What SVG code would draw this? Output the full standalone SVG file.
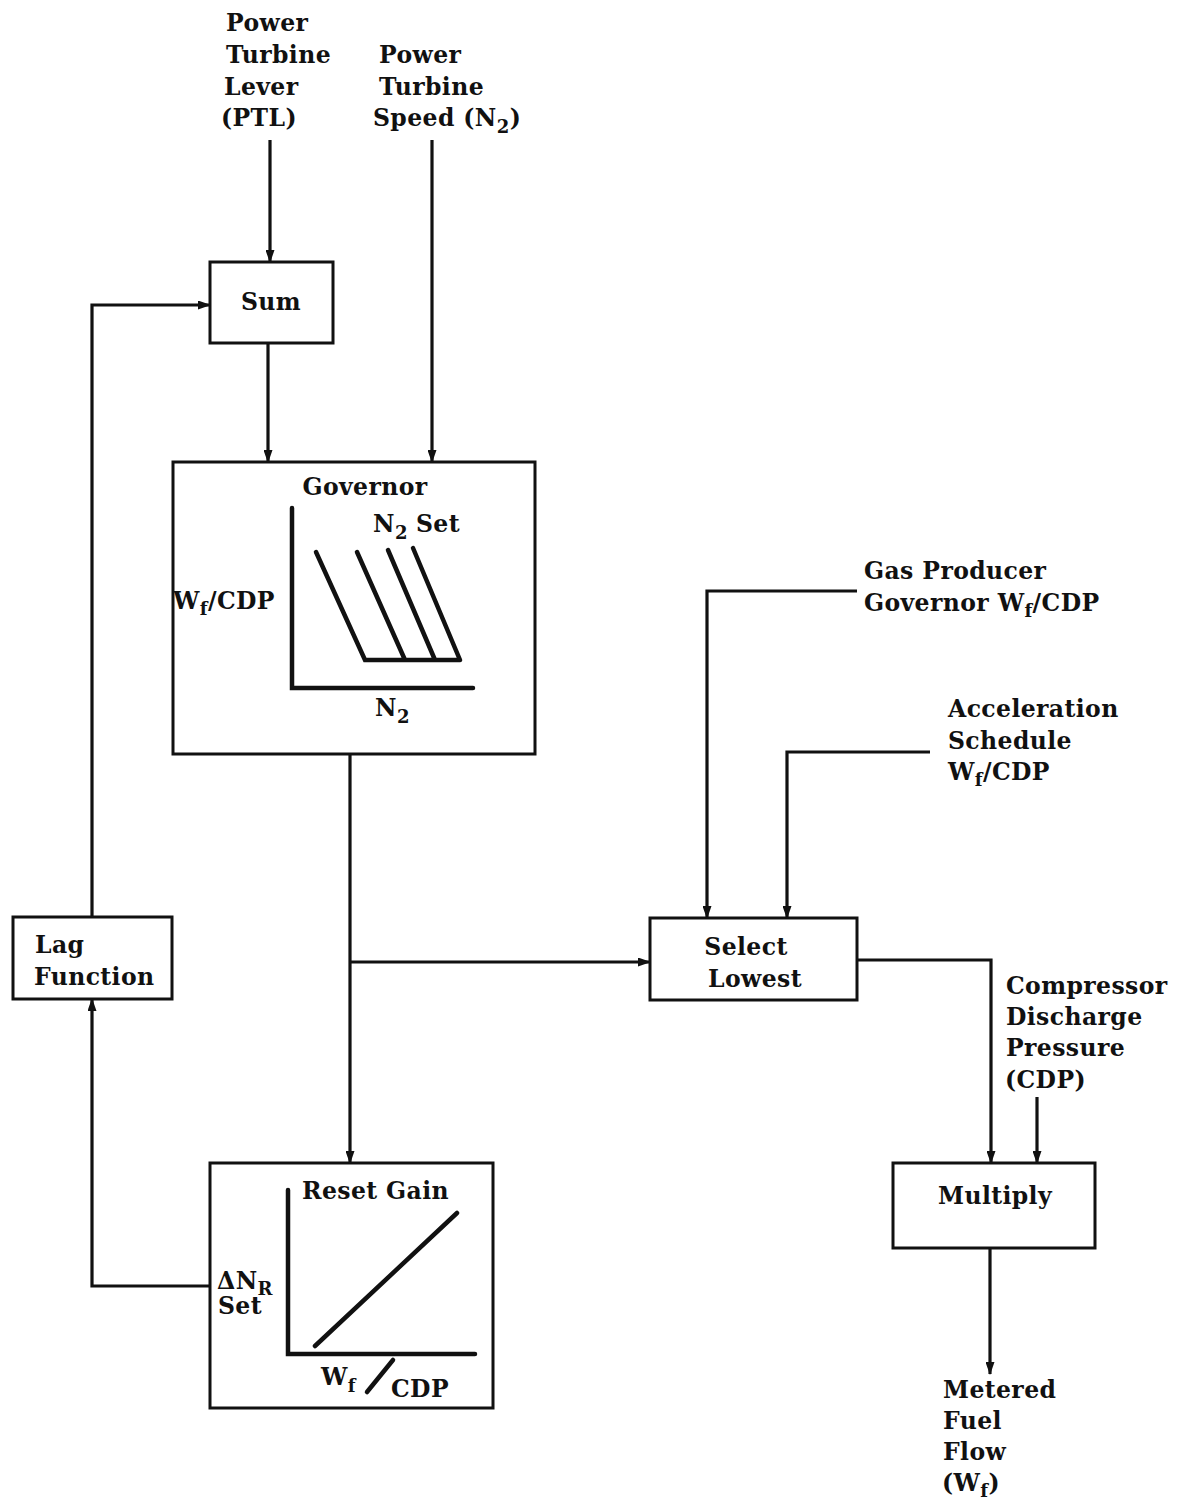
<svg xmlns="http://www.w3.org/2000/svg" width="1186" height="1503" viewBox="0 0 1186 1503">
<style>
text{font-family:"DejaVu Serif","Liberation Serif",serif;font-weight:bold;font-size:23.5px;letter-spacing:0.4px;fill:#111}
.sub{font-size:18px}
.box{fill:#fff;stroke:#111;stroke-width:3}
.ln{fill:none;stroke:#111;stroke-width:3.2;stroke-linejoin:miter}
.plot{fill:none;stroke:#111;stroke-width:4.5;stroke-linecap:round}
</style>
<defs>
<marker id="ah" markerUnits="userSpaceOnUse" markerWidth="13" markerHeight="9" refX="12" refY="4.5" orient="auto">
<path d="M0,0 L13,4.5 L0,9 z" fill="#111"/>
</marker>
</defs>
<rect width="1186" height="1503" fill="#fff"/>

<g id="labels">
<text x="226" y="31">Power</text>
<text x="226" y="63">Turbine</text>
<text x="224" y="95">Lever</text>
<text x="221" y="126">(PTL)</text>
<text x="379" y="63">Power</text>
<text x="379" y="95">Turbine</text>
<text x="373" y="126">Speed (N<tspan class="sub" dy="7">2</tspan><tspan dy="-7">)</tspan></text>
<text x="864" y="579">Gas Producer</text>
<text x="864" y="611">Governor W<tspan class="sub" dy="6">f</tspan><tspan dy="-6">/CDP</tspan></text>
<text x="948" y="717">Acceleration</text>
<text x="948" y="749">Schedule</text>
<text x="948" y="780">W<tspan class="sub" dy="6">f</tspan><tspan dy="-6">/CDP</tspan></text>
<text x="1006" y="994">Compressor</text>
<text x="1006" y="1025">Discharge</text>
<text x="1006" y="1056">Pressure</text>
<text x="1005" y="1088">(CDP)</text>
<text x="943" y="1398">Metered</text>
<text x="943" y="1429">Fuel</text>
<text x="943" y="1460">Flow</text>
<text x="942" y="1491">(W<tspan class="sub" dy="6">f</tspan><tspan dy="-6">)</tspan></text>
</g>

<g id="connectors">
<path class="ln" d="M270,140 V262" marker-end="url(#ah)"/>
<path class="ln" d="M432,140 V462" marker-end="url(#ah)"/>
<path class="ln" d="M268,343 V462" marker-end="url(#ah)"/>
<path class="ln" d="M350,754 V1163" marker-end="url(#ah)"/>
<path class="ln" d="M350,962 H650" marker-end="url(#ah)"/>
<path class="ln" d="M210,1286 H92 V999" marker-end="url(#ah)"/>
<path class="ln" d="M92,917 V305 H210" marker-end="url(#ah)"/>
<path class="ln" d="M857,591 H707 V918" marker-end="url(#ah)"/>
<path class="ln" d="M930,752 H787 V918" marker-end="url(#ah)"/>
<path class="ln" d="M857,960 H991 V1163" marker-end="url(#ah)"/>
<path class="ln" d="M1037,1097 V1163" marker-end="url(#ah)"/>
<path class="ln" d="M990,1248 V1374" marker-end="url(#ah)"/>
</g>

<g id="sum">
<rect class="box" x="210" y="262" width="123" height="81"/>
<text x="271" y="310" text-anchor="middle">Sum</text>
</g>

<g id="governor">
<rect class="box" x="173" y="462" width="362" height="292"/>
<text x="365" y="495" text-anchor="middle">Governor</text>
<path class="plot" d="M292,508 V688 H473"/>
<path class="plot" d="M316,552 L365,660 H460 M357,552 L405,660 M388,550 L435,660 M413,548 L460,660"/>
<text x="373" y="532">N<tspan class="sub" dy="7">2</tspan><tspan dy="-7" x="416">Set</tspan></text>
<text x="173" y="609">W<tspan class="sub" dy="6">f</tspan><tspan dy="-6">/CDP</tspan></text>
<text x="375" y="716">N<tspan class="sub" dy="7">2</tspan></text>
</g>

<g id="reset-gain">
<rect class="box" x="210" y="1163" width="283" height="245"/>
<text x="302" y="1199">Reset Gain</text>
<path class="plot" d="M288,1190 V1354 H475"/>
<path class="plot" d="M315,1346 L457,1213"/>
<path class="plot" d="M367,1392 L393,1360"/>
<text x="217" y="1289">ΔN<tspan class="sub" dy="6">R</tspan></text>
<text x="218" y="1314">Set</text>
<text x="321" y="1385">W<tspan class="sub" dy="7">f</tspan></text>
<text x="391" y="1397">CDP</text>
</g>

<g id="lag-function">
<rect class="box" x="13" y="917" width="159" height="82"/>
<text x="35" y="953">Lag</text>
<text x="34" y="985">Function</text>
</g>

<g id="select-lowest">
<rect class="box" x="650" y="918" width="207" height="82"/>
<text x="746" y="955" text-anchor="middle">Select</text>
<text x="755" y="987" text-anchor="middle">Lowest</text>
</g>

<g id="multiply">
<rect class="box" x="893" y="1163" width="202" height="85"/>
<text x="995" y="1204" text-anchor="middle">Multiply</text>
</g>
</svg>
